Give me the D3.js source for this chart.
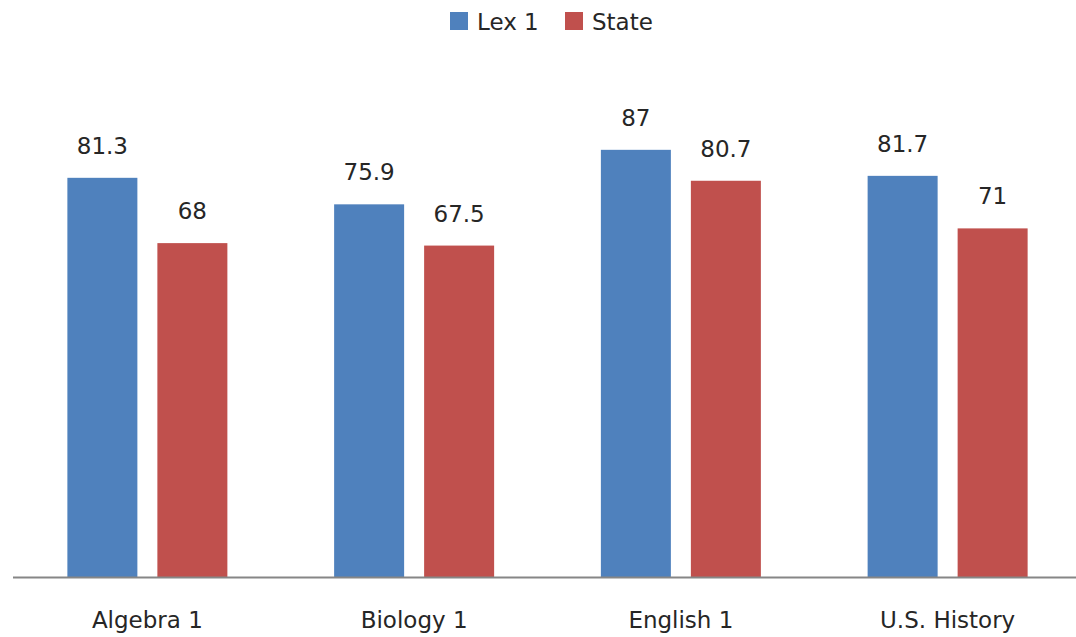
<!DOCTYPE html>
<html>
<head>
<meta charset="utf-8">
<script src="https://cdn.jsdelivr.net/npm/d3@7/dist/d3.min.js"></script>
<style>
html,body{margin:0;padding:0;background:#fff;}
svg{display:block;}
</style>
</head>
<body>
<svg id="chart" width="1076" height="637"></svg>
<script>
const categories = ["Algebra 1", "Biology 1", "English 1", "U.S. History"];
const seriesNames = ["Lex 1", "State"];
const lex1 = [81.3, 75.9, 87, 81.7];
const state = [68, 67.5, 80.7, 71];
const colors = ["#4F81BD", "#C0504D"];

const data = categories.map((c, i) => ({cat: c, values: [lex1[i], state[i]]}));

const svg = d3.select("#chart");
const W = 1076, H = 637;
const font = "'DejaVu Sans', Verdana, sans-serif";

const x0 = d3.scaleBand().domain(categories).range([14, 1081]).paddingInner(0).paddingOuter(0);
const step = x0.step();
const barW = 70, inner = 20;
const groupW = barW * 2 + inner;
const y = d3.scaleLinear().domain([0, 100]).range([577, 86]);

const g = svg.append("g");

data.forEach(d => {
  const gx = x0(d.cat) + (step - groupW) / 2;
  d.values.forEach((v, j) => {
    const bx = gx + j * (barW + inner);
    g.append("rect")
      .attr("x", bx).attr("y", y(v))
      .attr("width", barW).attr("height", y(0) - y(v))
      .attr("fill", colors[j]);
    g.append("text")
      .attr("x", bx + barW / 2).attr("y", y(v) - 24)
      .attr("text-anchor", "middle")
      .attr("font-family", font).attr("font-size", 23)
      .attr("fill", "#262626")
      .text(v);
  });
});

// x axis
const xAxis = d3.axisBottom(x0).tickSize(0).tickPadding(0);
const ax = svg.append("g").attr("transform", "translate(0,577)").call(xAxis);
ax.select(".domain").attr("d", "M13,0.5H1076").attr("stroke", "#868686").attr("stroke-width", 2);
ax.selectAll("text")
  .attr("font-family", font).attr("font-size", 23)
  .attr("fill", "#262626")
  .attr("dy", null).attr("y", 51);

// legend
const legendItems = [{name: seriesNames[0], x: 450}, {name: seriesNames[1], x: 565}];
legendItems.forEach((it, i) => {
  svg.append("rect").attr("x", it.x).attr("y", 12).attr("width", 18).attr("height", 18).attr("fill", colors[i]);
  svg.append("text").attr("x", it.x + 27).attr("y", 30)
    .attr("font-family", font).attr("font-size", 23).attr("fill", "#262626")
    .text(it.name);
});
</script>
</body>
</html>
